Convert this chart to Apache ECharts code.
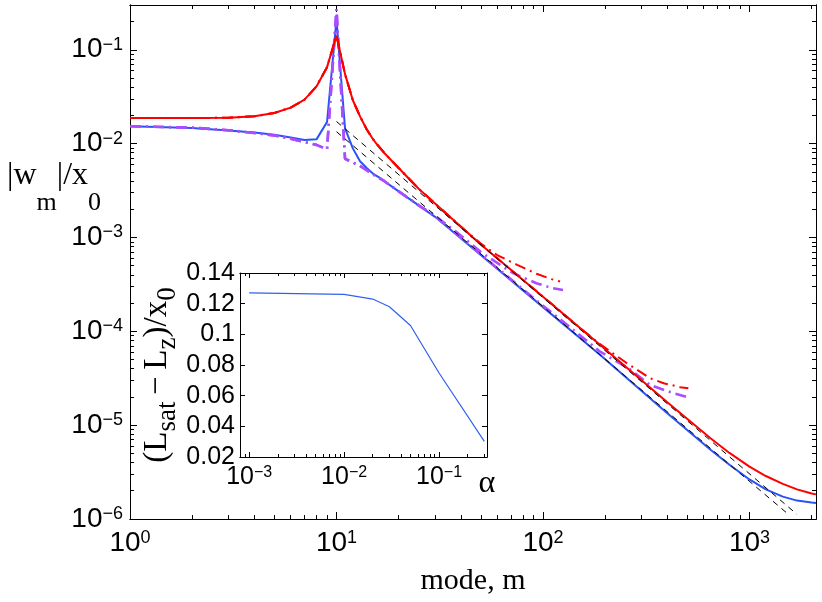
<!DOCTYPE html>
<html>
<head>
<meta charset="utf-8">
<script src="https://cdn.jsdelivr.net/npm/echarts@6.0.0/dist/echarts.min.js"></script>
<style>
  html, body { margin: 0; padding: 0; background: #fff; }
  #main { width: 822px; height: 602px; }
</style>
</head>
<body>
<div id="main"></div>
<script>
// main panel: |w_m|/x_0 against mode number m
let modes = [1, 2, 3, 4, 5, 6, 7, 8, 9, 10, 11, 12, 13, 14, 15, 16, 17, 20, 25, 30, 50, 100, 190, 400, 650, 800, 1000, 1200, 1450, 1700, 2000, 2100];
let redSolid = [0.0187, 0.0187, 0.0189, 0.0196, 0.0212, 0.0242, 0.0294, 0.0407, 0.0653, 0.142, 0.055, 0.029, 0.0195, 0.0142, 0.0112, 0.0093, 0.0080, 0.0055, 0.0033, 0.0023, 8.4e-4, 2.33e-4, 7.1e-5, 1.75e-5, 7.2e-6, 5.06e-6, 3.61e-6, 2.87e-6, 2.37e-6, 2.07e-6, 1.87e-6, 1.83e-6];
let blueSolid = [0.0153, 0.0147, 0.0138, 0.0131, 0.0124, 0.0116, 0.0109, 0.0111, 0.017, 0.21, 0.0145, 0.0089, 0.0065, 0.0055, 0.0048, 0.0044, 0.0040, 0.0031, 0.0022, 0.00166, 6.5e-4, 1.81e-4, 5.55e-5, 1.34e-5, 5.43e-6, 3.78e-6, 2.64e-6, 2.07e-6, 1.73e-6, 1.57e-6, 1.5e-6, 1.48e-6];

// dash-dot runs: common head for m = 1..30, then their own tails
let headModes = [1, 2, 3, 4, 5, 6, 7, 8, 9, 10, 11, 12, 13, 14, 15, 17, 20, 25, 30];
let purpleHead = [0.0153, 0.0148, 0.0139, 0.0130, 0.0122, 0.0113, 0.0104, 0.0097, 0.0087, 0.27, 0.0069, 0.0063, 0.0058, 0.0052, 0.0047, 0.0040, 0.0031, 0.0022, 0.0017];
let redHead = [0.0187, 0.0187, 0.0189, 0.0196, 0.0212, 0.0242, 0.0294, 0.0407, 0.0653, 0.142, 0.055, 0.029, 0.0195, 0.0142, 0.0112, 0.0080, 0.0055, 0.0033, 0.0023];

let purpleShortModes = [40, 50, 64, 72, 93, 110, 125];
let purpleShort = [1.05e-3, 7.0e-4, 4.87e-4, 4.14e-4, 3.25e-4, 2.9e-4, 2.75e-4];
let purpleLongModes = [50, 100, 117, 150, 189, 264, 330, 421, 501];
let purpleLong = [6.6e-4, 1.87e-4, 1.43e-4, 9.2e-5, 6.07e-5, 3.94e-5, 2.68e-5, 2.22e-5, 1.99e-5];
let redShortModes = [40, 50, 60, 75, 93, 110, 121];
let redShort = [1.3e-3, 8.6e-4, 6.5e-4, 5.1e-4, 4.1e-4, 3.6e-4, 3.4e-4];
let redLongModes = [50, 100, 150, 189, 255, 330, 384, 462, 506];
let redLong = [8.4e-4, 2.35e-4, 1.1e-4, 7.3e-5, 4.57e-5, 3.16e-5, 2.8e-5, 2.54e-5, 2.48e-5];

// power-law guides (black dashed)
let guideUpperModes = [10, 1700];
let guideUpper = [0.0172, 1.12e-6];
let guideLowerModes = [10, 1545];
let guideLower = [0.0134, 1.12e-6];

// inset: (L_sat - L_z)/x_0 against alpha
let alpha = [0.001, 0.01, 0.02, 0.03, 0.05, 0.1, 0.3];
let dL = [0.127, 0.126, 0.123, 0.118, 0.1058, 0.0748, 0.0302];

// decade labels (exponents of 10)
let xDecades = [0, 1, 2, 3];
let yDecades = [-6, -5, -4, -3, -2, -1];
let insetDecades = [-3, -2, -1];

let xRange = [1, 2100];
let yRange = [1e-6, 0.3];
let insetRange = [0.0008, 0.32];

let sans = "Liberation Sans";
let serif = "Liberation Serif";

// 2..9 x 10^k positions, in log10 units, for the box tick marks
let minorTicks = (lo, hi) => {
  let out = [];
  for (let e = Math.floor(Math.log10(lo)); e <= Math.ceil(Math.log10(hi)); e++) {
    for (let k = 2; k <= 9; k++) {
      let v = k * Math.pow(10, e);
      if (v > lo * 1.0001 && v < hi * 0.9999) out.push(Math.log10(v));
    }
  }
  return out;
};

let powLabel = (e) => "{b|10}{s|" + String(Math.round(e)).replace("-", "\u2212") + "}";

let pairs = (xs, ys) => xs.map((x, i) => [x, ys[i]]);

let bigRich = {
  b: { fontFamily: sans, fontSize: 28, lineHeight: 28, padding: [8, 0, 8, 0], color: "#000" },
  s: { fontFamily: sans, fontSize: 18, lineHeight: 18, verticalAlign: "top", color: "#000" },
};
let smallRich = {
  b: { fontFamily: sans, fontSize: 25, lineHeight: 25, padding: [7, 0, 7, 0], color: "#000" },
  s: { fontFamily: sans, fontSize: 16, lineHeight: 16, verticalAlign: "top", color: "#000" },
};

// hidden log axis that carries the data
let dataAxis = (grid, range) => ({
  type: "log",
  gridIndex: grid,
  min: range[0],
  max: range[1],
  show: false,
  splitLine: { show: false },
});

// box side drawn in log10 units: line, ticks and maybe labels
let boxAxis = (o) => ({
  type: "value",
  gridIndex: o.grid,
  position: o.pos,
  min: o.min,
  max: o.max,
  interval: o.interval,
  silent: true,
  axisLine: { show: true, onZero: false, lineStyle: { color: "#000", width: 1 } },
  axisTick: {
    show: true,
    inside: true,
    length: o.len,
    customValues: o.ticks,
    lineStyle: { color: "#000", width: 1 },
  },
  axisLabel: o.label
    ? Object.assign({ show: true, color: "#000", hideOverlap: false, showMinLabel: true, showMaxLabel: true }, o.label)
    : { show: false },
  splitLine: { show: false },
  minorTick: { show: false },
  axisPointer: { show: false },
});

let lg = Math.log10;
let xMinor = minorTicks(xRange[0], xRange[1]);
let yMinor = minorTicks(yRange[0], yRange[1]);
let insetMinor = minorTicks(insetRange[0], insetRange[1]);

let xAxes = [
  dataAxis(0, xRange),
  dataAxis(1, insetRange),
  boxAxis({ grid: 0, pos: "bottom", min: lg(xRange[0]), max: lg(xRange[1]), len: 7, ticks: xDecades,
    label: { customValues: xDecades, formatter: powLabel, rich: bigRich, margin: 10 } }),
  boxAxis({ grid: 0, pos: "top", min: lg(xRange[0]), max: lg(xRange[1]), len: 7, ticks: xDecades }),
  boxAxis({ grid: 0, pos: "bottom", min: lg(xRange[0]), max: lg(xRange[1]), len: 4, ticks: xMinor }),
  boxAxis({ grid: 0, pos: "top", min: lg(xRange[0]), max: lg(xRange[1]), len: 4, ticks: xMinor }),
  boxAxis({ grid: 1, pos: "bottom", min: lg(insetRange[0]), max: lg(insetRange[1]), len: 5, ticks: insetDecades,
    label: { customValues: insetDecades, formatter: powLabel, rich: smallRich, margin: 8 } }),
  boxAxis({ grid: 1, pos: "top", min: lg(insetRange[0]), max: lg(insetRange[1]), len: 5, ticks: insetDecades }),
  boxAxis({ grid: 1, pos: "bottom", min: lg(insetRange[0]), max: lg(insetRange[1]), len: 3, ticks: insetMinor }),
  boxAxis({ grid: 1, pos: "top", min: lg(insetRange[0]), max: lg(insetRange[1]), len: 3, ticks: insetMinor }),
];

let insetTick = { show: true, inside: true, length: 5, lineStyle: { color: "#000", width: 1 } };
let yAxes = [
  dataAxis(0, yRange),
  Object.assign(boxAxis({ grid: 1, pos: "left", min: 0.02, max: 0.14, interval: 0.02, len: 5,
    label: { fontFamily: sans, fontSize: 25, margin: 5 } }), { axisTick: insetTick }),
  Object.assign(boxAxis({ grid: 1, pos: "right", min: 0.02, max: 0.14, interval: 0.02, len: 5 }), { axisTick: insetTick }),
  boxAxis({ grid: 0, pos: "left", min: lg(yRange[0]), max: lg(yRange[1]), len: 7, ticks: yDecades,
    label: { customValues: yDecades, formatter: powLabel, rich: bigRich, margin: 7 } }),
  boxAxis({ grid: 0, pos: "right", min: lg(yRange[0]), max: lg(yRange[1]), len: 7, ticks: yDecades }),
  boxAxis({ grid: 0, pos: "left", min: lg(yRange[0]), max: lg(yRange[1]), len: 4, ticks: yMinor }),
  boxAxis({ grid: 0, pos: "right", min: lg(yRange[0]), max: lg(yRange[1]), len: 4, ticks: yMinor }),
];

let dashDot = [11, 5, 2, 5];
let line = (name, data, color, width, type, extra) =>
  Object.assign(
    {
      name: name,
      type: "line",
      data: data,
      showSymbol: false,
      symbol: "none",
      smooth: false,
      xAxisIndex: 0,
      yAxisIndex: 0,
      lineStyle: { color: color, width: width, type: type || "solid" },
      itemStyle: { color: color },
      z: 2,
    },
    extra || {}
  );

let option = {
  animation: false,
  backgroundColor: "#fff",
  grid: [
    { left: 130, right: 6, top: 5, bottom: 83, outerBoundsMode: "none" },
    { left: 240, right: 335, top: 273, bottom: 145, outerBoundsMode: "none",
      show: true, backgroundColor: "#fff", borderWidth: 0 },
  ],
  xAxis: xAxes,
  yAxis: yAxes,
  series: [
    line("blue", pairs(modes, blueSolid), "#2a52f5", 2),
    line("purple long", pairs(headModes.concat(purpleLongModes), purpleHead.concat(purpleLong)), "#a94dff", 2.6, dashDot),
    line("purple short", pairs(headModes.concat(purpleShortModes), purpleHead.concat(purpleShort)), "#a94dff", 2.6, dashDot),
    line("red long", pairs(headModes.concat(redLongModes), redHead.concat(redLong)), "#ff0000", 2, dashDot),
    line("red short", pairs(headModes.concat(redShortModes), redHead.concat(redShort)), "#ff0000", 2, dashDot),
    line("red", pairs(modes, redSolid), "#ff0000", 2),
    line("guide upper", pairs(guideUpperModes, guideUpper), "#000", 1, [6, 5]),
    line("guide lower", pairs(guideLowerModes, guideLower), "#000", 1, [6, 5]),
    line("inset", pairs(alpha, dL), "#3060f0", 1.2, "solid", { xAxisIndex: 1, yAxisIndex: 1, z: 6 }),
  ],
  graphic: [
    {
      type: "text",
      x: 7,
      y: 160,
      style: {
        text: "{m||w}{s|m}{m||/x}{s|0}",
        align: "left",
        verticalAlign: "top",
        rich: {
          m: { fontFamily: serif, fontSize: 32, lineHeight: 32, verticalAlign: "top", fill: "#000" },
          s: { fontFamily: serif, fontSize: 26, lineHeight: 26, verticalAlign: "top", padding: [30, 0, 0, 0], fill: "#000" },
        },
      },
    },
    {
      type: "text",
      x: 473,
      y: 581,
      style: { text: "mode, m", font: "30px " + serif, fill: "#000", align: "center", verticalAlign: "middle" },
    },
    {
      type: "text",
      x: 487,
      y: 484,
      z: 10,
      style: { text: "\u03b1", font: "32px " + serif, fill: "#000", align: "center", verticalAlign: "middle" },
    },
    {
      type: "text",
      x: 157,
      y: 375,
      rotation: Math.PI / 2,
      z: 10,
      style: {
        text: "{m|(L}{s|sat}{m|\u2009\u2212\u2009L}{s|z}{m|)/x}{s|0}",
        align: "center",
        verticalAlign: "middle",
        rich: {
          m: { fontFamily: serif, fontSize: 33, lineHeight: 33, verticalAlign: "top", fill: "#000" },
          s: { fontFamily: serif, fontSize: 27, lineHeight: 27, verticalAlign: "top", padding: [14, 0, 0, 0], fill: "#000" },
        },
      },
    },
  ],
};

let myChart = echarts.init(document.getElementById("main"));
myChart.setOption(option);
</script>
</body>
</html>
